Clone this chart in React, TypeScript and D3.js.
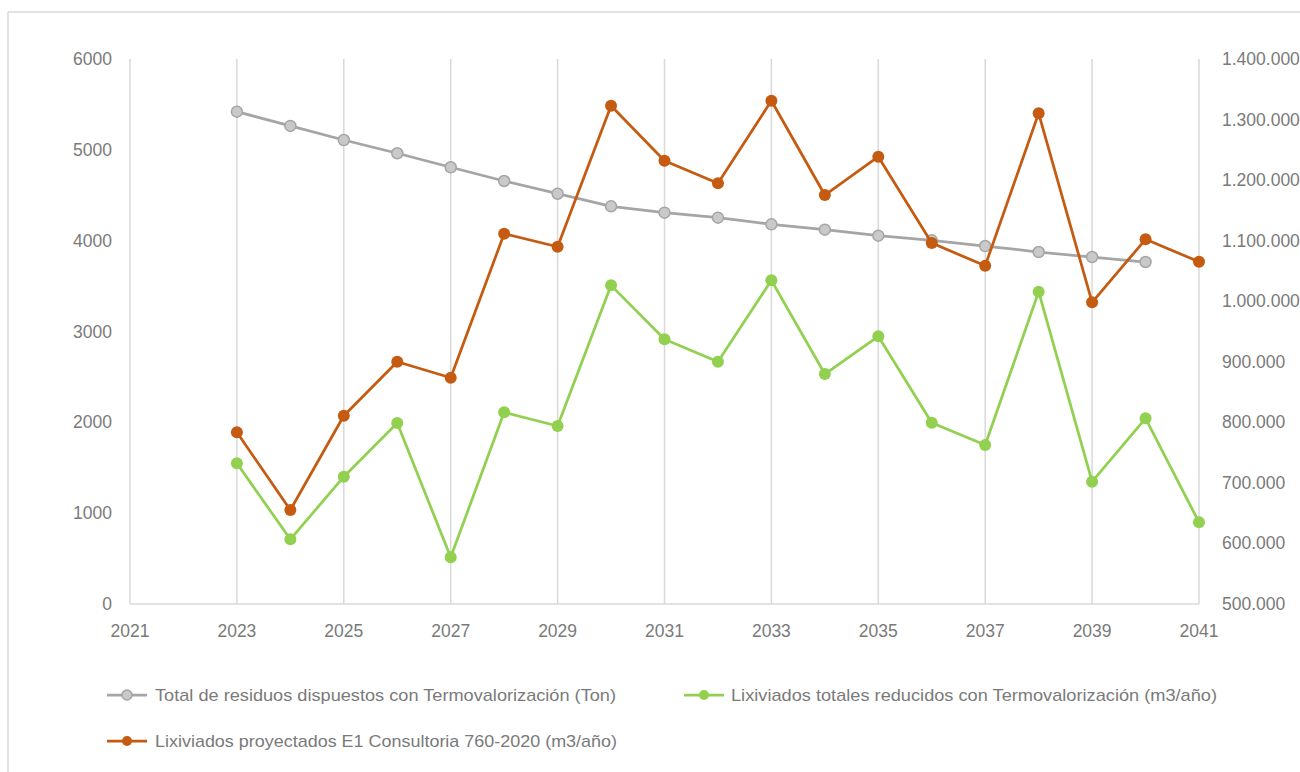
import React from "react";
import * as d3 from "d3";

const years = [2023, 2024, 2025, 2026, 2027, 2028, 2029, 2030, 2031, 2032, 2033, 2034, 2035, 2036, 2037, 2038, 2039, 2040, 2041];
const residuosYears = [2023, 2024, 2025, 2026, 2027, 2028, 2029, 2030, 2031, 2032, 2033, 2034, 2035, 2036, 2037, 2038, 2039, 2040];
const residuos = [5420, 5263, 5108, 4962, 4808, 4657, 4517, 4378, 4308, 4253, 4180, 4121, 4055, 4004, 3941, 3875, 3820, 3765];
const lixReducidos = [732300, 606800, 710200, 798900, 577100, 816500, 793900, 1026200, 937100, 900100, 1034500, 879800, 942000, 799400, 762500, 1015700, 702000, 806600, 634900];
const lixProyectados = [783500, 655200, 810900, 900100, 873700, 1111500, 1090000, 1322800, 1232000, 1194700, 1331000, 1175400, 1238600, 1096000, 1058600, 1310300, 998200, 1102200, 1065200];

const xTicks = [2021, 2023, 2025, 2027, 2029, 2031, 2033, 2035, 2037, 2039, 2041];
const leftTicks = [0, 1000, 2000, 3000, 4000, 5000, 6000];
const rightTicks = [500000, 600000, 700000, 800000, 900000, 1000000, 1100000, 1200000, 1300000, 1400000];

const seriesNames = [
  "Total de residuos dispuestos con Termovalorización (Ton)",
  "Lixiviados totales reducidos con Termovalorización (m3/año)",
  "Lixiviados proyectados E1 Consultoria 760-2020 (m3/año)",
];

const GRAY = "#A5A5A5";
const GRAY_FILL = "#C9C9C9";
const GREEN = "#92D050";
const ORANGE = "#C55A11";
const GRID = "#D9D9D9";
const TEXT = "#7a7a7a";
const FONT = "'Liberation Sans', Arial, sans-serif";

const locale = d3.formatLocale({ decimal: ",", thousands: ".", grouping: [3], currency: ["", ""] });
const fmtRight = locale.format(",");

export default function App() {
  const x = d3.scaleLinear().domain([2021, 2041]).range([130, 1199]);
  const yL = d3.scaleLinear().domain([0, 6000]).range([604, 59]);
  const yR = d3.scaleLinear().domain([500000, 1400000]).range([604, 59]);

  const lineL = d3.line<[number, number]>().x((d) => x(d[0])).y((d) => yL(d[1]));
  const lineR = d3.line<[number, number]>().x((d) => x(d[0])).y((d) => yR(d[1]));

  const grayPts: [number, number][] = residuosYears.map((yr, i) => [yr, residuos[i]]);
  const greenPts: [number, number][] = years.map((yr, i) => [yr, lixReducidos[i]]);
  const orangePts: [number, number][] = years.map((yr, i) => [yr, lixProyectados[i]]);

  const y0 = yL(0);
  const yTop = yL(6000);

  return (
    <svg
      width={1300}
      height={772}
      style={{ position: "fixed", left: 0, top: 0, background: "#fff" }}
      fontFamily={FONT}
    >
      <rect x={0} y={0} width={1300} height={772} fill="#fff" />
      {/* outer border */}
      <line x1={8} y1={12} x2={1300} y2={12} stroke={GRID} strokeWidth={1.5} />
      <line x1={8} y1={12} x2={8} y2={772} stroke={GRID} strokeWidth={1.5} />

      {/* vertical gridlines */}
      {xTicks.map((t) => (
        <line key={"g" + t} x1={x(t)} x2={x(t)} y1={yTop} y2={y0} stroke={GRID} strokeWidth={1.5} />
      ))}
      {/* x axis line */}
      <line x1={x(2021)} x2={x(2041)} y1={y0} y2={y0} stroke={GRID} strokeWidth={1.5} />

      {/* x tick labels */}
      {xTicks.map((t) => (
        <text key={"xt" + t} x={x(t)} y={637} textAnchor="middle" fontSize={17.5} fill={TEXT}>
          {t}
        </text>
      ))}
      {/* left tick labels */}
      {leftTicks.map((t) => (
        <text key={"lt" + t} x={112} y={yL(t) + 6} textAnchor="end" fontSize={17.5} fill={TEXT}>
          {t}
        </text>
      ))}
      {/* right tick labels */}
      {rightTicks.map((t) => (
        <text key={"rt" + t} x={1222} y={yR(t) + 6} textAnchor="start" fontSize={17.5} fill={TEXT}>
          {fmtRight(t)}
        </text>
      ))}

      {/* gray series */}
      <path d={lineL(grayPts) || ""} fill="none" stroke={GRAY} strokeWidth={2.75} strokeLinejoin="round" />
      {grayPts.map((p) => (
        <circle key={"gp" + p[0]} cx={x(p[0])} cy={yL(p[1])} r={5.5} fill={GRAY_FILL} stroke={GRAY} strokeWidth={1.5} />
      ))}

      {/* green series */}
      <path d={lineR(greenPts) || ""} fill="none" stroke={GREEN} strokeWidth={2.75} strokeLinejoin="round" />
      {greenPts.map((p) => (
        <circle key={"gr" + p[0]} cx={x(p[0])} cy={yR(p[1])} r={6} fill={GREEN} />
      ))}

      {/* orange series */}
      <path d={lineR(orangePts) || ""} fill="none" stroke={ORANGE} strokeWidth={2.75} strokeLinejoin="round" />
      {orangePts.map((p) => (
        <circle key={"or" + p[0]} cx={x(p[0])} cy={yR(p[1])} r={6} fill={ORANGE} />
      ))}

      {/* legend */}
      <g>
        <line x1={107} x2={147} y1={695} y2={695} stroke={GRAY} strokeWidth={2.75} />
        <circle cx={127} cy={695} r={5} fill={GRAY_FILL} stroke={GRAY} strokeWidth={1.5} />
        <text x={155} y={701} fontSize={17} fill={TEXT} textLength={461} lengthAdjust="spacingAndGlyphs">
          {seriesNames[0]}
        </text>

        <line x1={684} x2={724} y1={695} y2={695} stroke={GREEN} strokeWidth={2.75} />
        <circle cx={704} cy={695} r={5} fill={GREEN} />
        <text x={731} y={701} fontSize={17} fill={TEXT} textLength={486} lengthAdjust="spacingAndGlyphs">
          {seriesNames[1]}
        </text>

        <line x1={107} x2={147} y1={741} y2={741} stroke={ORANGE} strokeWidth={2.75} />
        <circle cx={127} cy={741} r={5} fill={ORANGE} />
        <text x={155} y={747} fontSize={17} fill={TEXT} textLength={462} lengthAdjust="spacingAndGlyphs">
          {seriesNames[2]}
        </text>
      </g>
    </svg>
  );
}
